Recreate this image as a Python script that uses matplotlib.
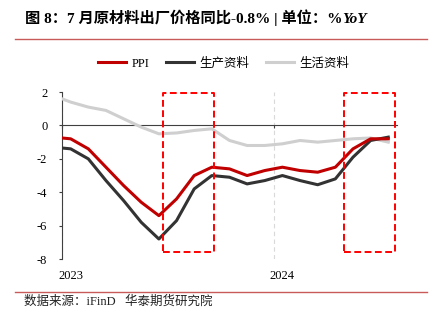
import matplotlib
matplotlib.use('Agg')
import matplotlib.pyplot as plt
import numpy as np
import pandas as pd
from matplotlib.patches import Rectangle
from matplotlib.lines import Line2D

plt.rcParams['font.family'] = ['Liberation Serif', 'Noto Sans CJK SC']
plt.rcParams['axes.unicode_minus'] = False

# monthly YoY, %
months = pd.period_range('2022-12', '2024-07', freq='M')
ppi = [-0.7, -0.8, -1.4, -2.5, -3.6, -4.6, -5.4, -4.4, -3.0, -2.5, -2.6, -3.0, -2.7,
       -2.5, -2.7, -2.8, -2.5, -1.4, -0.8, -0.8]
producer = [-1.3, -1.4, -2.0, -3.3, -4.5, -5.8, -6.8, -5.7, -3.8, -3.0, -3.1, -3.5, -3.3,
            -3.0, -3.3, -3.55, -3.2, -1.9, -0.9, -0.7]
consumer = [1.8, 1.4, 1.1, 0.9, 0.4, -0.1, -0.5, -0.45, -0.3, -0.2, -0.9, -1.2, -1.2,
            -1.1, -0.9, -1.0, -0.9, -0.8, -0.75, -1.0]

year_ticks = ['2023', '2024']
# dashed highlight boxes (start, end dates)
highlights = [('2023-06-23', '2023-09-19'), ('2024-05-01', '2024-07-28')]

start = pd.Period('2023-01', freq='M')


def month_pos(d):
    ts = pd.Timestamp(d)
    p = ts.to_period('M')
    return (p - start).n + (ts.day - 1) / p.days_in_month


x = np.array([(m - start).n for m in months]) + 0.5

RED = '#C00000'
DARK = '#333333'
GREY = '#CFCFCF'
AXC = '#404040'

fig = plt.figure(figsize=(4.34, 3.23), dpi=100)
ax = fig.add_axes([0.1425, 0.198, 0.7725, 0.517])

ax.plot(x, consumer, color=GREY, lw=2.2, solid_joinstyle='round', zorder=3)
ax.plot(x, producer, color=DARK, lw=2.2, solid_joinstyle='round', zorder=4)
ax.plot(x, ppi, color=RED, lw=2.2, solid_joinstyle='round', zorder=5)

ax.set_xlim(0, month_pos('2024-08-01'))
ax.set_ylim(-8, 2)
ax.set_yticks(np.arange(-8, 3, 2))

for a, b in highlights:
    x0, x1 = month_pos(a), month_pos(b)
    ax.add_patch(Rectangle((x0, -7.6), x1 - x0, 9.52, fill=False, edgecolor='#FF0000',
                           lw=1.4, ls=(0, (3.5, 1.8)), joinstyle='round', clip_on=False, zorder=6))

for s in ['top', 'right']:
    ax.spines[s].set_visible(False)
ax.spines['left'].set_color(AXC)
ax.spines['bottom'].set_color(AXC)
ax.spines['bottom'].set_position(('data', 0))
ax.spines['bottom'].set_zorder(2)

year_pos = [month_pos(y + '-01-01') for y in year_ticks]
ax.set_xticks(year_pos)
ax.tick_params(axis='x', direction='out', length=2.5, color=AXC, labelbottom=False)
ax.tick_params(axis='y', direction='out', length=2.5, color=AXC, pad=8, labelsize=9)
ax.grid(axis='x', color='#D9D9D9', ls=(0, (4, 3)), lw=0.8)

sec = ax.secondary_xaxis('bottom')
sec.set_xticks([p + 0.5 for p in year_pos])
sec.set_xticklabels(year_ticks)
sec.tick_params(length=0, pad=8, labelsize=9)
sec.spines['bottom'].set_visible(False)

handles = [Line2D([], [], color=RED, lw=2.2), Line2D([], [], color=DARK, lw=2.2),
           Line2D([], [], color=GREY, lw=2.2)]
fig.legend(handles, ['PPI', '生产资料', '生活资料'], loc='center', bbox_to_anchor=(0.515, 0.803),
           ncol=3, frameon=False, fontsize=9, handlelength=2.3, handletextpad=0.4,
           columnspacing=1.3)

title_y = 0.928
t = fig.text(0.058, title_y, '图 8：7 月原材料出厂价格同比-0.8% | 单位：%', fontsize=11,
             fontweight='bold', va='baseline', ha='left')
ax.annotate('YoY', xy=(1, title_y), xycoords=(t, 'figure fraction'),
            fontsize=11, fontweight='bold', style='italic', va='baseline', ha='left',
            annotation_clip=False)

for yy in (0.879, 0.096):
    fig.add_artist(Line2D([0.035, 0.984], [yy, yy], transform=fig.transFigure,
                          color='#C85A5A', lw=1))

fig.text(0.055, 0.065, '数据来源：iFinD   华泰期货研究院', fontsize=9, color='#222222',
         va='center', ha='left')

fig.savefig('out.png', dpi=100)
